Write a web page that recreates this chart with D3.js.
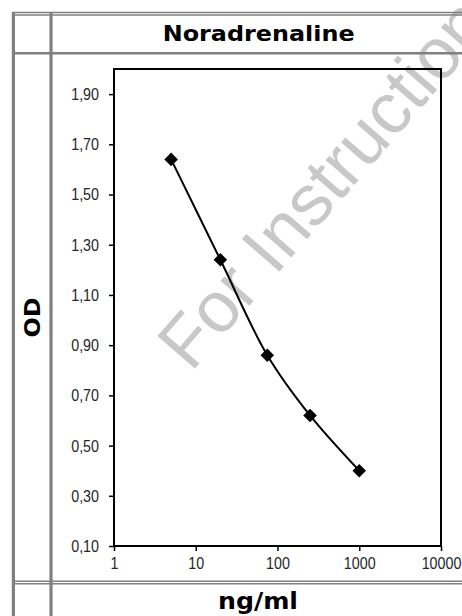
<!DOCTYPE html>
<html>
<head>
<meta charset="utf-8">
<script src="https://cdn.jsdelivr.net/npm/d3@7"></script>
<style>
  body { margin: 0; background: #fff; }
  svg { display: block; }
</style>
</head>
<body>
<svg id="chart" width="462" height="616"></svg>
<script>
// standard curve data (OD vs concentration)
const concentrations = [5, 20, 75, 250, 1000];
const odValues = [1.64, 1.24, 0.86, 0.62, 0.40];

const xTickValues = [1, 10, 100, 1000, 10000];
const yTickValues = [0.10, 0.30, 0.50, 0.70, 0.90, 1.10, 1.30, 1.50, 1.70, 1.90];
const xDomain = [1, 10000];
const yDomain = [0.10, 2.00];

const titleText = "Noradrenaline";
const xLabel = "ng/ml";
const yLabel = "OD";
const watermarkText = "For Instructions Use Only";

const svg = d3.select("#chart");

const plot = {left: 114, right: 441, top: 69, bottom: 546};

const xScale = d3.scaleLog().domain(xDomain).range([plot.left, plot.right]);
const yScale = d3.scaleLinear().domain(yDomain).range([plot.bottom, plot.top]);

// watermark behind everything
svg.append("text")
    .attr("transform", "translate(191,373) rotate(-49)")
    .attr("font-family", "'Liberation Sans', Arial, sans-serif")
    .attr("font-size", 72)
    .attr("fill", "#c8c8c8")
    .text(watermarkText);

// table borders
const grid = svg.append("g").attr("stroke", "#808080").attr("fill", "none");
[{y: 12.6, w: 1.5}, {y: 14.9, w: 1.5}, {y: 53.2, w: 2.6}, {y: 581.2, w: 1.5}, {y: 583.7, w: 1.5}]
  .forEach(l => {
    grid.append("line")
        .attr("x1", 12).attr("x2", 462)
        .attr("y1", l.y).attr("y2", l.y)
        .attr("stroke-width", l.w);
  });
[13.4, 51].forEach(x => {
    grid.append("line")
        .attr("x1", x).attr("x2", x)
        .attr("y1", 12).attr("y2", 616)
        .attr("stroke-width", 3.2);
});

// header / labels
svg.append("text")
    .attr("x", 258.7).attr("y", 41.3)
    .attr("text-anchor", "middle")
    .attr("font-family", "'DejaVu Sans', Verdana, sans-serif")
    .attr("font-weight", "bold")
    .attr("font-size", 22)
    .attr("textLength", 192)
    .attr("lengthAdjust", "spacingAndGlyphs")
    .text(titleText);

svg.append("text")
    .attr("transform", "translate(40,317.5) rotate(-90)")
    .attr("text-anchor", "middle")
    .attr("font-family", "'DejaVu Sans', Verdana, sans-serif")
    .attr("font-weight", "bold")
    .attr("font-size", 21)
    .attr("textLength", 40)
    .attr("lengthAdjust", "spacingAndGlyphs")
    .text(yLabel);

svg.append("text")
    .attr("x", 258).attr("y", 609)
    .attr("text-anchor", "middle")
    .attr("font-family", "'DejaVu Sans', Verdana, sans-serif")
    .attr("font-weight", "bold")
    .attr("font-size", 23)
    .attr("textLength", 80)
    .attr("lengthAdjust", "spacingAndGlyphs")
    .text(xLabel);

// axes
const xAxis = d3.axisBottom(xScale)
    .tickValues(xTickValues)
    .tickFormat(d3.format("d"))
    .tickSize(5).tickSizeOuter(0).tickPadding(6);

const yAxis = d3.axisLeft(yScale)
    .tickValues(yTickValues)
    .tickFormat(d => d3.format(".2f")(d).replace(".", ","))
    .tickSize(5).tickSizeOuter(0).tickPadding(10);

const gx = svg.append("g")
    .attr("transform", "translate(0," + plot.bottom + ")")
    .call(xAxis);
const gy = svg.append("g")
    .attr("transform", "translate(" + plot.left + ",0)")
    .call(yAxis);

[gx, gy].forEach(g => {
  g.select(".domain").remove();
  g.attr("font-family", "'Liberation Sans', Arial, sans-serif").attr("font-size", 17);
  g.selectAll(".tick line").attr("stroke", "#000").attr("stroke-width", 1.5);
  g.selectAll(".tick text")
      .attr("fill", "#262626")
      .each(function() {
        const len = this.getComputedTextLength();
        d3.select(this).attr("textLength", len * 0.84).attr("lengthAdjust", "spacingAndGlyphs");
      });
});

// plot frame
svg.append("rect")
    .attr("x", plot.left).attr("y", plot.top)
    .attr("width", plot.right - plot.left)
    .attr("height", plot.bottom - plot.top)
    .attr("fill", "none")
    .attr("stroke", "#000")
    .attr("stroke-width", 2);

// smoothed curve + markers
const points = concentrations.map((c, i) => ({x: c, y: odValues[i]}));

const line = d3.line()
    .curve(d3.curveCatmullRom)
    .x(d => xScale(d.x))
    .y(d => yScale(d.y));

svg.append("path")
    .datum(points)
    .attr("fill", "none")
    .attr("stroke", "#000")
    .attr("stroke-width", 2)
    .attr("d", line);

svg.selectAll(".marker")
    .data(points)
  .enter().append("path")
    .attr("class", "marker")
    .attr("transform", d => "translate(" + xScale(d.x) + "," + yScale(d.y) + ") rotate(45)")
    .attr("d", d3.symbol().type(d3.symbolSquare).size(92))
    .attr("fill", "#000");
</script>
</body>
</html>
